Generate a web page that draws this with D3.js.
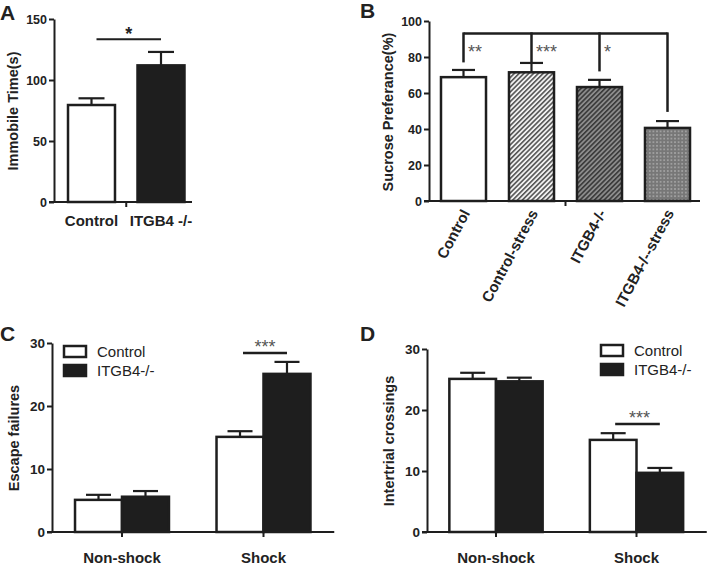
<!DOCTYPE html>
<html><head><meta charset="utf-8">
<script src="https://cdn.jsdelivr.net/npm/d3@7"></script>
<style>
body{margin:0;background:#fff}
svg{display:block}
text{font-family:"Liberation Sans",Arial,Helvetica,sans-serif;fill:#222}
</style>
</head><body><svg id="c" width="709" height="565"></svg>
<script>
// ---------- Panel A ----------
const aCategories = ["Control", "ITGB4 -/-"];
const aValues = [79.5, 112];
const aErrors = [5.5, 11];
const aTicks = [0, 50, 100, 150];
const aSigLevel = 133.5;
// ---------- Panel B ----------
const bCategories = ["Control", "Control-stress", "ITGB4-/-", "ITGB4-/--stress"];
const bValues = [68.8, 71.5, 63.3, 40.6];
const bErrors = [4.0, 5.2, 4.0, 3.8];
const bTicks = [0, 20, 40, 60, 80, 100];
const bBracketLevel = 93;
const bDropEnds = [77, 77, 72, 49.5];
const bStars = ["**", "***", "*"];
const bStarLevel = 85;
// ---------- Panel C ----------
const groups = ["Non-shock", "Shock"];
const series = ["Control", "ITGB4-/-"];
const cControl = [5.1, 15.1];
const cITGB4 = [5.6, 25.1];
const cControlErr = [0.8, 0.9];
const cITGB4Err = [0.9, 1.9];
const cTicks = [0, 10, 20, 30];
const cSigLevel = 28.4;
// ---------- Panel D ----------
const dControl = [25.1, 15.1];
const dITGB4 = [24.7, 9.7];
const dControlErr = [1.0, 1.1];
const dITGB4Err = [0.6, 0.8];
const dTicks = [0, 10, 20, 30];
const dSigLevel = 17.7;

const INK = "#1e1e1e";
const svg = d3.select("#c");

// patterns
const defs = svg.append("defs");
function hatch(id, bg, fg) {
  const p = defs.append("pattern").attr("id", id).attr("patternUnits", "userSpaceOnUse")
    .attr("width", 3.4).attr("height", 3.4).attr("patternTransform", "rotate(45)");
  p.append("rect").attr("width", 3.4).attr("height", 3.4).attr("fill", bg);
  p.append("line").attr("x1", 0.8).attr("x2", 0.8).attr("y1", 0).attr("y2", 3.4)
    .attr("stroke", fg).attr("stroke-width", 1.5);
}
hatch("hatchLight", "#f2f2f2", "#4a4a4a");
hatch("hatchDark", "#8c8c8c", "#333");
{
  const p = defs.append("pattern").attr("id", "dots").attr("patternUnits", "userSpaceOnUse")
    .attr("width", 3.6).attr("height", 3.6);
  p.append("rect").attr("width", 3.6).attr("height", 3.6).attr("fill", "#777");
  p.append("rect").attr("x", 1).attr("y", 1).attr("width", 1.6).attr("height", 1.6).attr("fill", "#a9a9a9");
}
const bFills = ["#fff", "url(#hatchLight)", "url(#hatchDark)", "url(#dots)"];

function yAxis(g, x, y, ticks, fs) {
  const ax = g.append("g").attr("transform", `translate(${x},0)`)
    .call(d3.axisLeft(y).tickValues(ticks).tickSize(5).tickSizeOuter(0).tickPadding(2));
  ax.selectAll("path,line").attr("stroke", INK).attr("stroke-width", 2);
  ax.selectAll("text").attr("font-size", fs).attr("font-weight", "bold").attr("fill", "#222")
    .style("font-family", '"Liberation Sans",Arial,sans-serif');
  return ax;
}
function xLine(g, x1, x2, yy, tickXs) {
  g.append("line").attr("x1", x1).attr("x2", x2).attr("y1", yy).attr("y2", yy)
    .attr("stroke", INK).attr("stroke-width", 2);
  g.selectAll(null).data(tickXs).enter().append("line")
    .attr("x1", d => d).attr("x2", d => d).attr("y1", yy).attr("y2", yy + 5)
    .attr("stroke", INK).attr("stroke-width", 2);
}
function errBar(g, cx, y, v, e, half) {
  g.append("line").attr("x1", cx).attr("x2", cx).attr("y1", y(v)).attr("y2", y(v + e))
    .attr("stroke", INK).attr("stroke-width", 2.2);
  g.append("line").attr("x1", cx - half).attr("x2", cx + half).attr("y1", y(v + e)).attr("y2", y(v + e))
    .attr("stroke", INK).attr("stroke-width", 2.2);
}
function yTitle(g, x, yc, txt) {
  g.append("text").attr("transform", `translate(${x},${yc}) rotate(-90)`)
    .attr("text-anchor", "middle").attr("dy", "0.35em")
    .attr("font-size", 14.5).attr("font-weight", "bold").text(txt);
}
function letter(g, x, y, t) {
  g.append("text").attr("x", x).attr("y", y).attr("font-size", 21).attr("font-weight", "bold").text(t);
}

// ================= Panel A =================
{
  const g = svg.append("g");
  const axX = 54;
  const y = d3.scaleLinear().domain([0, 150]).range([202, 19]);
  const x = d3.scaleBand().domain(aCategories).range([56.75, 195.75]).paddingInner(0.324).paddingOuter(0.162);
  g.selectAll("rect.bar").data(aCategories).enter().append("rect")
    .attr("x", d => x(d)).attr("width", x.bandwidth())
    .attr("y", (d, i) => y(aValues[i])).attr("height", (d, i) => y(0) - y(aValues[i]))
    .attr("fill", (d, i) => i ? INK : "#fff").attr("stroke", INK).attr("stroke-width", 2.5);
  aCategories.forEach((c, i) => errBar(g, x(c) + x.bandwidth() / 2, y, aValues[i], aErrors[i], 13));
  yAxis(g, axX, y, aTicks, 12.5);
  xLine(g, axX - 5, 192, y(0), [(x.range()[0] + x.range()[1]) / 2]);
  g.selectAll("text.xl").data(aCategories).enter().append("text")
    .attr("x", d => x(d) + x.bandwidth() / 2).attr("y", 226).attr("text-anchor", "middle")
    .attr("font-size", 15).attr("font-weight", "bold").text(d => d);
  // significance
  const sx1 = x(aCategories[0]) + x.bandwidth() / 2 + 5, sx2 = x(aCategories[1]) + x.bandwidth() / 2;
  g.append("line").attr("x1", sx1).attr("x2", sx2).attr("y1", y(aSigLevel)).attr("y2", y(aSigLevel))
    .attr("stroke", INK).attr("stroke-width", 2);
  g.append("text").attr("x", (sx1 + sx2) / 2).attr("y", y(aSigLevel) + 1).attr("text-anchor", "middle")
    .attr("font-size", 18).attr("font-weight", "bold").text("*");
  yTitle(g, 13, 111, "Immobile Time(s)");
  letter(g, 0, 20, "A");
}

// ================= Panel B =================
{
  const g = svg.append("g");
  const axX = 429;
  const y = d3.scaleLinear().domain([0, 100]).range([201, 21]);
  const x = d3.scaleBand().domain(bCategories).range([429.5, 701.5]).paddingInner(0.338).paddingOuter(0.169);
  const cx = d => x(d) + x.bandwidth() / 2;
  g.selectAll("rect.bar").data(bCategories).enter().append("rect")
    .attr("x", d => x(d)).attr("width", x.bandwidth())
    .attr("y", (d, i) => y(bValues[i])).attr("height", (d, i) => y(0) - y(bValues[i]))
    .attr("fill", (d, i) => bFills[i]).attr("stroke", INK).attr("stroke-width", 2.5);
  bCategories.forEach((c, i) => errBar(g, cx(c), y, bValues[i], bErrors[i], 11.5));
  yAxis(g, axX, y, bTicks, 12.5);
  xLine(g, axX - 5, 700, y(0), [(x.range()[0] + x.range()[1]) / 2]);
  g.selectAll("text.xl").data(bCategories).enter().append("text")
    .attr("transform", d => `translate(${cx(d) + 7},213) rotate(-62)`)
    .attr("text-anchor", "end").attr("font-size", 15).attr("font-weight", "bold").text(d => d);
  // bracket
  const by = y(bBracketLevel);
  g.append("line").attr("x1", cx(bCategories[0])).attr("x2", cx(bCategories[3])).attr("y1", by).attr("y2", by)
    .attr("stroke", INK).attr("stroke-width", 2.5);
  g.selectAll("line.drop").data(bCategories).enter().append("line")
    .attr("x1", d => cx(d)).attr("x2", d => cx(d)).attr("y1", by - 1.2).attr("y2", (d, i) => y(bDropEnds[i]))
    .attr("stroke", INK).attr("stroke-width", 2.5);
  g.selectAll("text.star").data(bStars).enter().append("text")
    .attr("x", (d, i) => cx(bCategories[i]) + 4.5).attr("y", y(bStarLevel) + 10)
    .attr("font-size", 18).attr("fill", "#555").style("fill", "#555").text(d => d);
  yTitle(g, 388, 112, "Sucrose Preferance(%)");
  letter(g, 360, 18, "B");
}

// ============ grouped panels C & D ============
function grouped(opts) {
  const g = svg.append("g");
  const y = d3.scaleLinear().domain([0, 30]).range([532, opts.yTop]);
  const x0 = d3.scaleBand().domain(groups).range(opts.xr).paddingInner(0.336).paddingOuter(0.168);
  const x1 = d3.scaleBand().domain(series).range([0, x0.bandwidth()]).padding(0);
  const rows = groups.map((gr, i) => ({
    group: gr,
    vals: [
      { s: series[0], v: opts.ctrl[i], e: opts.ctrlErr[i] },
      { s: series[1], v: opts.itg[i], e: opts.itgErr[i] }
    ]
  }));
  const gg = g.selectAll("g.grp").data(rows).enter().append("g")
    .attr("transform", d => `translate(${x0(d.group)},0)`);
  gg.selectAll("rect").data(d => d.vals).enter().append("rect")
    .attr("x", d => x1(d.s)).attr("width", x1.bandwidth())
    .attr("y", d => y(d.v)).attr("height", d => y(0) - y(d.v))
    .attr("fill", d => d.s === series[0] ? "#fff" : INK).attr("stroke", INK).attr("stroke-width", 2.5);
  rows.forEach(r => r.vals.forEach(v => errBar(g, x0(r.group) + x1(v.s) + x1.bandwidth() / 2, y, v.v, v.e, 12.5)));
  yAxis(g, opts.axX, y, opts.ticks, 13.5);
  xLine(g, opts.axX - 5, opts.xr[1], y(0), groups.map(d => x0(d) + x0.bandwidth() / 2));
  g.selectAll("text.xl").data(groups).enter().append("text")
    .attr("x", d => x0(d) + x0.bandwidth() / 2).attr("y", 563).attr("text-anchor", "middle")
    .attr("font-size", 15).attr("font-weight", "bold").text(d => d);
  // significance in Shock group
  const sg = groups[1];
  const sx1 = x0(sg) + x1(series[0]) + x1.bandwidth() / 2 + opts.sigOff;
  const sx2 = x0(sg) + x1(series[1]) + x1.bandwidth() / 2;
  const sy = y(opts.sig);
  g.append("line").attr("x1", sx1).attr("x2", sx2).attr("y1", sy).attr("y2", sy)
    .attr("stroke", INK).attr("stroke-width", 2.5);
  g.append("text").attr("x", (sx1 + sx2) / 2 + opts.starOff).attr("y", sy - 0.5).attr("text-anchor", "middle")
    .attr("font-size", 18).style("fill", "#555").text("***");
  // legend
  const lg = g.append("g");
  series.forEach((s, i) => {
    lg.append("rect").attr("x", opts.lx).attr("y", opts.ly + i * 19).attr("width", 22).attr("height", 11)
      .attr("fill", i ? INK : "#fff").attr("stroke", INK).attr("stroke-width", 2.5);
    lg.append("text").attr("x", opts.lx + 33).attr("y", opts.ly + i * 19 + 11)
      .attr("font-size", 15).text(s);
  });
  yTitle(g, opts.titleX, opts.titleY, opts.title);
  letter(g, opts.letterX, 341, opts.letter);
}

grouped({
  yTop: 343, xr: [51.25, 334.25], axX: 52, ctrl: cControl, itg: cITGB4,
  ctrlErr: cControlErr, itgErr: cITGB4Err, ticks: cTicks, sig: cSigLevel, sigOff: 3, starOff: 0,
  lx: 64, ly: 346, title: "Escape failures", titleX: 14, titleY: 438, letter: "C", letterX: 0
});
grouped({
  yTop: 349, xr: [425.75, 706.75], axX: 427, ctrl: dControl, itg: dITGB4,
  ctrlErr: dControlErr, itgErr: dITGB4Err, ticks: dTicks, sig: dSigLevel, sigOff: 2, starOff: 2,
  lx: 601, ly: 345, title: "Intertrial crossings", titleX: 389, titleY: 441, letter: "D", letterX: 360
});
</script>
</body></html>
